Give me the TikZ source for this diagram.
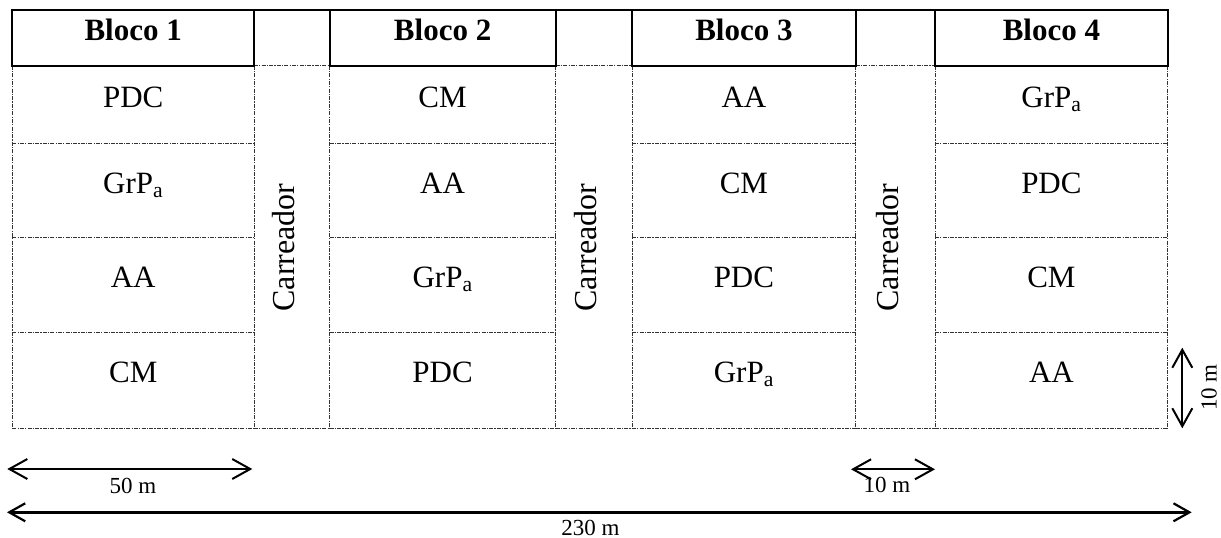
\documentclass[tikz,border=0pt]{standalone}
\usepackage{fontspec}
\setmainfont{Liberation Serif}
\usetikzlibrary{arrows.meta}
\begin{document}
\begin{tikzpicture}[x=1pt,y=-1pt,
  plotline/.style={black!80,line width=0.9pt,dash pattern=on 4pt off 1.2pt on 1.2pt off 1.2pt},
  headline/.style={black,line width=2pt,line cap=rect},
  celltext/.style={anchor=base,inner sep=0pt,font=\fontsize{31}{36}\selectfont},
  headtext/.style={anchor=base,inner sep=0pt,font=\fontsize{31}{36}\selectfont\bfseries},
  roadtext/.style={anchor=base,inner sep=0pt,rotate=90,font=\fontsize{32}{36}\selectfont},
  dimtext/.style={anchor=base,inner sep=0pt,font=\fontsize{23}{26}\selectfont},
  dimarrow/.style={line width=2pt,{Straight Barb[length=18pt,width=20pt]}-{Straight Barb[length=18pt,width=20pt]}},
  bigarrow/.style={line width=3pt,{Straight Barb[length=16pt,width=18pt,line width=2.2pt]}-{Straight Barb[length=16pt,width=18pt,line width=2.2pt]}}]
\useasboundingbox (0,0) rectangle (1221,538);

% column edges: block 1, road, block 2, road, block 3, road, block 4
\def\xA{12.3}\def\xB{254}\def\xC{329.5}\def\xD{555.7}
\def\xE{632}\def\xF{855.7}\def\xG{935}\def\xH{1167.7}
% row edges: header top, header bottom, plot rows
\def\yA{10}\def\yB{65.7}\def\yC{143.3}\def\yD{237.7}\def\yE{332.7}\def\yF{428.3}

% plot boundaries (dash-dot)
\foreach \l/\r in {\xA/\xB,\xC/\xD,\xE/\xF,\xG/\xH}
  \foreach \y in {\yC,\yD,\yE,\yF}
    \draw[plotline] (\l,\y) -- (\r,\y);
\foreach \l/\r in {\xB/\xC,\xD/\xE,\xF/\xG}{
  \draw[plotline] (\l,\yB) -- (\r,\yB);
  \draw[plotline] (\l,\yF) -- (\r,\yF);
}
\foreach \x in {\xA,\xB,\xC,\xD,\xE,\xF,\xG,\xH}
  \draw[plotline] (\x,\yB) -- (\x,\yF);

% header frame (solid)
\draw[headline] (\xA,\yA) -- (\xH,\yA);
\foreach \x in {\xA,\xB,\xC,\xD,\xE,\xF,\xG,\xH}
  \draw[headline] (\x,\yA) -- (\x,\yB);
\foreach \l/\r in {\xA/\xB,\xC/\xD,\xE/\xF,\xG/\xH}
  \draw[headline] (\l,\yB) -- (\r,\yB);

% block headers
\node[headtext] (h1) at (133.2,40.5) {Bloco 1};
\node[headtext] (h2) at (442.6,40.5) {Bloco 2};
\node[headtext] (h3) at (743.9,40.5) {Bloco 3};
\node[headtext] (h4) at (1051.4,40.5) {Bloco 4};

% treatments in each block
\newcommand{\grp}{GrP\textsubscript{a}}
\foreach \c/\cx in {1/133.2,2/442.6,3/743.9,4/1051.4}{
  \foreach \r/\by in {1/107.3,2/193.5,3/287.5,4/382.7}{
    \coordinate (p-\c-\r) at (\cx,\by);
  }
}
\node[celltext] (t11) at (p-1-1) {PDC};
\node[celltext] (t12) at (p-1-2) {\grp};
\node[celltext] (t13) at (p-1-3) {AA};
\node[celltext] (t14) at (p-1-4) {CM};
\node[celltext] (t21) at (p-2-1) {CM};
\node[celltext] (t22) at (p-2-2) {AA};
\node[celltext] (t23) at (p-2-3) {\grp};
\node[celltext] (t24) at (p-2-4) {PDC};
\node[celltext] (t31) at (p-3-1) {AA};
\node[celltext] (t32) at (p-3-2) {CM};
\node[celltext] (t33) at (p-3-3) {PDC};
\node[celltext] (t34) at (p-3-4) {\grp};
\node[celltext] (t41) at (p-4-1) {\grp};
\node[celltext] (t42) at (p-4-2) {PDC};
\node[celltext] (t43) at (p-4-3) {CM};
\node[celltext] (t44) at (p-4-4) {AA};

% roads between blocks
\node[roadtext] (r1) at (294.8,247.5) {Carreador};
\node[roadtext] (r2) at (596.9,247.5) {Carreador};
\node[roadtext] (r3) at (898.4,247.5) {Carreador};

% dimensions
\coordinate (d50a) at (7.3,469);   \coordinate (d50b) at (252.3,469);
\coordinate (d10a) at (851,469.3); \coordinate (d10b) at (935,469.3);
\coordinate (dva)  at (1182.3,347.7); \coordinate (dvb) at (1182.3,428.3);
\coordinate (dta)  at (7,512.3);   \coordinate (dtb) at (1191.7,512.3);
\draw[dimarrow] (d50a) -- (d50b);
\draw[dimarrow] (d10a) -- (d10b);
\draw[dimarrow] (dva) -- (dvb);
\draw[bigarrow] (dta) -- (dtb);
\node[dimtext] (l50) at (133,493.3) {50 m};
\node[dimtext] (l10) at (887,492.7) {10 m};
\node[dimtext,rotate=90] (lv) at (1216.5,387.5) {10 m};
\node[dimtext] (l230) at (590.5,535) {230 m};
\end{tikzpicture}
\end{document}
